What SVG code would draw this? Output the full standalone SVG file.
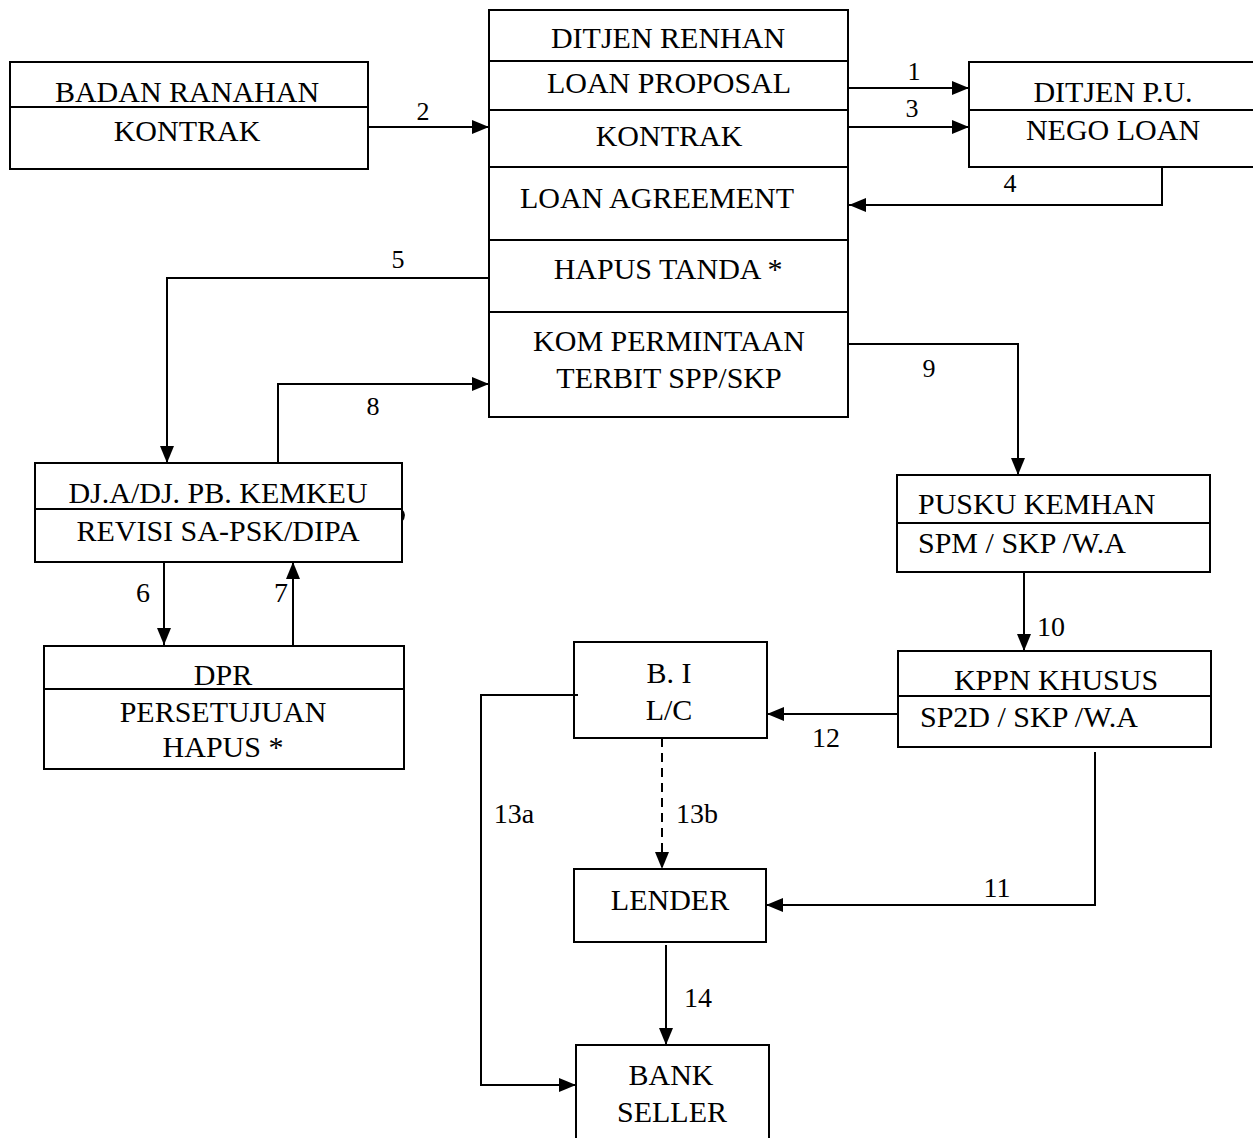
<svg xmlns="http://www.w3.org/2000/svg" width="1253" height="1138" viewBox="0 0 1253 1138">
<style>
.box{fill:none;stroke:#000;stroke-width:2}
text{font-family:'Liberation Serif','Times New Roman','DejaVu Serif',serif;fill:#000}
.t{font-size:30px;text-anchor:middle}
.tl{font-size:30px}
.lb{font-size:26px;text-anchor:middle}
.lb2{font-size:28px;text-anchor:middle}
.c{fill:none;stroke:#000;stroke-width:2;marker-end:url(#ah)}
.d{stroke-dasharray:9 6}
</style>
<defs>
<marker id="ah" markerUnits="userSpaceOnUse" markerWidth="17" markerHeight="14" refX="17" refY="7" orient="auto">
<path d="M0,0 L17,7 L0,14 z" fill="#000"/>
</marker>
</defs>
<rect width="1253" height="1138" fill="#fff"/>

<g id="badan">
<rect class="box" x="10" y="62" width="358" height="107"/>
<line class="box" x1="10" y1="107" x2="368" y2="107"/>
<text class="t" x="187" y="102">BADAN RANAHAN</text>
<text class="t" x="187" y="141">KONTRAK</text>
</g>

<g id="renhan">
<rect class="box" x="489" y="10" width="359" height="407"/>
<line class="box" x1="489" y1="61" x2="848" y2="61"/>
<line class="box" x1="489" y1="110" x2="848" y2="110"/>
<line class="box" x1="489" y1="167" x2="848" y2="167"/>
<line class="box" x1="489" y1="240" x2="848" y2="240"/>
<line class="box" x1="489" y1="312" x2="848" y2="312"/>
<text class="t" x="668" y="48">DITJEN RENHAN</text>
<text class="t" x="669" y="93">LOAN PROPOSAL</text>
<text class="t" x="669" y="146">KONTRAK</text>
<text class="t" x="657" y="208">LOAN AGREEMENT</text>
<text class="t" x="668" y="279">HAPUS TANDA *</text>
<text class="t" x="669" y="351">KOM PERMINTAAN</text>
<text class="t" x="669" y="388">TERBIT SPP/SKP</text>
</g>

<g id="ditjenpu">
<path class="box" d="M1254,62 H969 V167 H1254"/>
<line class="box" x1="969" y1="110" x2="1254" y2="110"/>
<text class="t" x="1113" y="102">DITJEN P.U.</text>
<text class="t" x="1113" y="140">NEGO LOAN</text>
</g>

<g id="djakemkeu">
<rect class="box" x="35" y="463" width="367" height="99"/>
<line class="box" x1="35" y1="509" x2="402" y2="509"/>
<text class="t" x="218" y="503">DJ.A/DJ. PB. KEMKEU</text>
<text class="t" x="218" y="541">REVISI SA-PSK/DIPA</text>
<path d="M402,509 Q408,515 402,522 z" fill="#000"/>
</g>

<g id="dpr">
<rect class="box" x="44" y="646" width="360" height="123"/>
<line class="box" x1="44" y1="689" x2="404" y2="689"/>
<text class="t" x="223" y="685">DPR</text>
<text class="t" x="223" y="722">PERSETUJUAN</text>
<text class="t" x="223" y="757">HAPUS *</text>
</g>

<g id="pusku">
<rect class="box" x="897" y="475" width="313" height="97"/>
<line class="box" x1="897" y1="523" x2="1210" y2="523"/>
<text class="tl" x="918" y="514">PUSKU KEMHAN</text>
<text class="tl" x="918" y="553">SPM / SKP /W.A</text>
</g>

<g id="kppn">
<rect class="box" x="898" y="651" width="313" height="96"/>
<line class="box" x1="898" y1="696" x2="1211" y2="696"/>
<text class="t" x="1056" y="690">KPPN KHUSUS</text>
<text class="tl" x="920" y="727">SP2D / SKP /W.A</text>
</g>

<g id="bi">
<rect class="box" x="574" y="642" width="193" height="96"/>
<text class="t" x="669" y="683">B. I</text>
<text class="t" x="669" y="720">L/C</text>
</g>

<g id="lender">
<rect class="box" x="574" y="869" width="192" height="73"/>
<text class="t" x="670" y="910">LENDER</text>
</g>

<g id="bankseller">
<path class="box" d="M576,1140 V1045 H769 V1140"/>
<text class="t" x="671" y="1085">BANK</text>
<text class="t" x="672" y="1122">SELLER</text>
</g>

<g id="connectors">
<path class="c" d="M368,127 H489"/>
<path class="c" d="M848,88 H969"/>
<path class="c" d="M848,127 H969"/>
<path class="c" d="M1162,167 V205 H849"/>
<path class="c" d="M489,278 H167 V463"/>
<path class="c" d="M278,463 V384 H489"/>
<path class="c" d="M164,562 V645"/>
<path class="c" d="M293,646 V562"/>
<path class="c" d="M848,344 H1018 V475"/>
<path class="c" d="M1024,572 V651"/>
<path class="c" d="M898,714 H767"/>
<path class="c" d="M1095,752 V905 H766"/>
<path class="c d" d="M662,738 V869"/>
<path class="c" d="M578,695 H481 V1085 H576"/>
<path class="c" d="M666,945 V1045"/>
<text class="lb" x="423" y="120">2</text>
<text class="lb" x="914" y="80">1</text>
<text class="lb" x="912" y="117">3</text>
<text class="lb" x="1010" y="192">4</text>
<text class="lb" x="398" y="268">5</text>
<text class="lb" x="373" y="415">8</text>
<text class="lb" x="929" y="377">9</text>
<text class="lb2" x="143" y="602">6</text>
<text class="lb2" x="281" y="602">7</text>
<text class="lb2" x="1051" y="636">10</text>
<text class="lb2" x="826" y="747">12</text>
<text class="lb2" x="514" y="823">13a</text>
<text class="lb2" x="697" y="823">13b</text>
<text class="lb2" x="997" y="897">11</text>
<text class="lb2" x="698" y="1007">14</text>
</g>
</svg>
